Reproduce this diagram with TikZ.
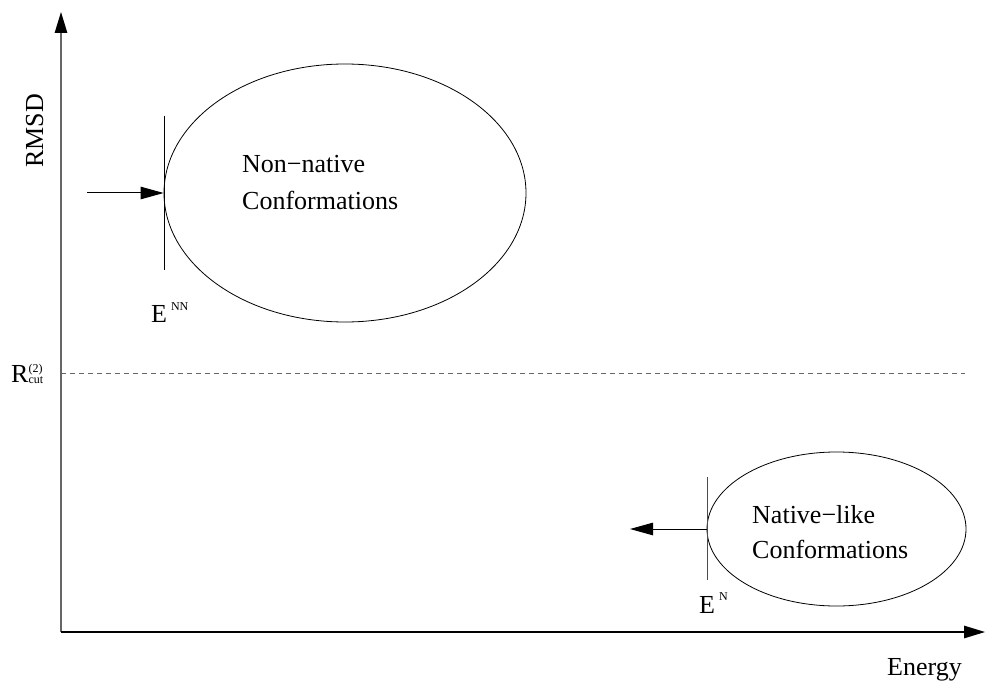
\documentclass[tikz,border=0pt]{standalone}
\usepackage{fontspec}
\setmainfont{Liberation Serif}
\usetikzlibrary{arrows.meta,shapes.geometric}
\begin{document}
\begin{tikzpicture}[x=1pt,y=-1pt,
  big/.style={font=\fontsize{26}{30}\selectfont, inner sep=0pt},
  small/.style={font=\fontsize{12.5}{13}\selectfont},
  axisline/.style={line width=1.2pt},
  tip/.style={-{Triangle[length=21pt,width=12.5pt,color=black]}},
  region/.style={draw, ellipse, inner sep=0pt, line width=0.8pt},
  tickline/.style={line width=0.9pt},
  pointer/.style={line width=1pt, -{Triangle[length=23pt,width=12.5pt]}},
  cutline/.style={draw=black!60, line width=1pt, dash pattern=on 5pt off 4pt}]
\useasboundingbox (0,0) rectangle (985,687);
% axes
\coordinate (origin) at (61,632);
\coordinate (ytop) at (61,12);
\coordinate (xend) at (985,632);
\draw[axisline, black!60, tip] (origin) -- (ytop);
\draw[axisline, tip] (origin) -- (xend);
\node[big, rotate=90, anchor=base west] (rmsd) at (43,168) {RMSD};
\node[big, anchor=base west] (energy) at (887,675) {Energy};
% cutoff
\coordinate (cutl) at (61,373);
\coordinate (cutr) at (965,373);
\draw[cutline] (cutl) -- (cutr);
\node[big, anchor=base west] (rcut) at (11,382) {R\rlap{\raisebox{10pt}{\fontsize{12}{12}\selectfont (2)}}\raisebox{-1pt}{\fontsize{12}{12}\selectfont cut}};
% non-native
\node[region, minimum width=362pt, minimum height=258pt] (nn) at (345,193) {};
\node[big, anchor=base west] (nnt1) at (242,173) {Non−native};
\node[big, anchor=base west] (nnt2) at (242,210) {Conformations};
\coordinate (nntop) at (164,116);
\coordinate (nnbot) at (164,270);
\draw[tickline] (nntop) -- (nnbot);
\coordinate (nnstart) at (87,193);
\draw[pointer] (nnstart) -- (nn.west);
\node[big, anchor=base west] (enn) at (151,322) {E\kern4pt\raisebox{12pt}{\fontsize{12}{12}\selectfont NN}};
% native-like
\node[region, minimum width=259pt, minimum height=154pt] (na) at (836.5,529) {};
\node[big, anchor=base west] (nat1) at (752,523) {Native−like};
\node[big, anchor=base west] (nat2) at (752,558) {Conformations};
\coordinate (natop) at (707,477);
\coordinate (nabot) at (707,580);
\draw[tickline, black!70] (natop) -- (nabot);
\coordinate (naend) at (630,529);
\draw[pointer] (na.west) -- (naend);
\node[big, anchor=base west] (en) at (699,613) {E\kern4pt\raisebox{13pt}{\fontsize{12}{12}\selectfont N}};
\end{tikzpicture}
\end{document}
